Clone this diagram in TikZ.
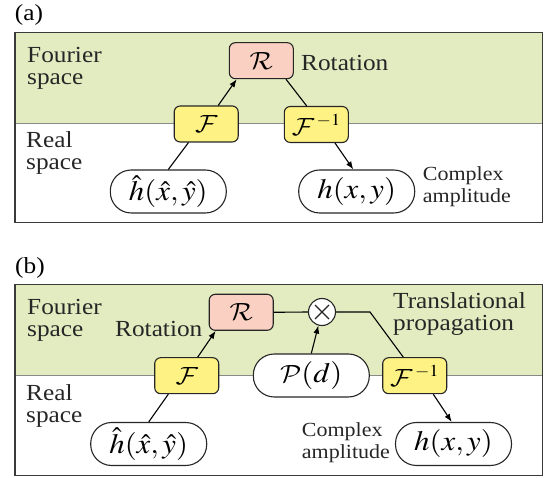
\documentclass[tikz,border=0pt]{standalone}
\usepackage{mathptmx}
\DeclareMathAlphabet{\mathcal}{OMS}{cmsy}{m}{n}
\usepackage[no-math]{fontspec}
\setmainfont[FakeStretch=1.1]{Liberation Serif}
\usepackage{graphicx}
\usetikzlibrary{arrows.meta}

\definecolor{fourierbg}{HTML}{E3EBC0}
\definecolor{rotfill}{HTML}{F9D0C1}
\definecolor{ftfill}{HTML}{FDF283}
\definecolor{framegray}{HTML}{3A3A3A}
\definecolor{divgray}{HTML}{8A8A8A}

% math set a little larger and widened like the text
\newcommand{\mth}[1]{\scalebox{1.1}[1]{\fontsize{28}{28}\selectfont$#1$}}
\newcommand{\inv}{^{\,\scriptscriptstyle -1}}

\tikzset{
  panel/.style={draw=framegray, line width=1.4pt},
  divider/.style={draw=divgray, line width=1.3pt},
  opbox/.style={draw=black!85, line width=1.1pt, rounded corners=6pt,
    minimum width=64pt, minimum height=36pt, inner sep=0pt},
  rotbox/.style={opbox, fill=rotfill},
  ftbox/.style={opbox, fill=ftfill},
  pill/.style={draw=black!85, line width=1.1pt, fill=white, rounded corners=21pt,
    minimum width=116pt, minimum height=43pt, inner sep=0pt},
  mult/.style={draw=black!85, line width=1.1pt, fill=white, circle,
    minimum size=27pt, inner sep=0pt,
    path picture={
      \draw[line width=1.1pt, black!85]
        ([shift={(-7pt,-7pt)}]path picture bounding box.center) -- ++(14pt,14pt)
        ([shift={(-7pt,7pt)}]path picture bounding box.center) -- ++(14pt,-14pt);
    }},
  conn/.style={draw=black, line width=1.1pt},
  arr/.style={conn, -{Latex[length=8pt,width=6pt]}},
  lbl/.style={inner sep=0pt, align=left, font=\fontsize{23}{22}\selectfont, text=black!85},
  small/.style={lbl, font=\fontsize{20}{22}\selectfont},
  tag/.style={inner sep=0pt, font=\fontsize{23}{23}\selectfont}
}

\begin{document}
\begin{tikzpicture}[x=1pt, y=-1pt]
\useasboundingbox (0,0) rectangle (555,478);

% ---------- panel (a) ----------
\node[tag] (taga) at (29,15) {(a)};
\fill[fourierbg] (15,32.7) rectangle (542.3,123.3);
\draw[divider] (15,123.3) -- (542.3,123.3);
\draw[panel] (15,32.7) rectangle (542.3,222.7);

% two-line labels are anchored on the baseline of their last line
\node[lbl, anchor=base west] (fsa) at (27,85) {Fourier\\space};
\node[lbl, anchor=base west] (rsa) at (26,170) {Real\\space};

\node[rotbox] (Ra)  at (261.3,60.7) {\mth{\mathcal{R}}};
\node[ftbox]  (Fa)  at (206.2,124) {\mth{\mathcal{F}}};
\node[ftbox]  (Fia) at (316.3,124.5) {\mth{\mathcal{F}\inv}};
\node[pill]   (hha) at (168.3,191.5) {\mth{\hat{h}(\hat{x},\hat{y})}};
\node[pill]   (hxa) at (356.7,191.5) {\mth{h(x,y)}};

\node[lbl, anchor=base west] (rota) at (301,71) {Rotation};
\node[small, anchor=base west] (caa) at (422.7,202.7) {Complex\\amplitude};

\draw[conn] (hha.north) -- ([xshift=-17.7pt]Fa.south);
\draw[arr] ([xshift=12pt]Fa.north) -- ([xshift=-24.6pt]Ra.south);
\draw[conn] ([xshift=24.7pt]Ra.south) -- ([xshift=-9.6pt]Fia.north);
\draw[arr] ([xshift=18.7pt]Fia.south) -- ([xshift=-3.4pt]hxa.north);

% ---------- panel (b) ----------
\node[tag] (tagb) at (30,268) {(b)};
\fill[fourierbg] (15,284.3) rectangle (542.3,375.7);
\draw[divider] (15,375.7) -- (542.3,375.7);
\draw[panel] (15,284.3) rectangle (542.3,475.3);

\node[lbl, anchor=base west] (fsb) at (27,336.7) {Fourier\\space};
\node[lbl, anchor=base west] (rsb) at (26,422.7) {Real\\space};

\node[rotbox] (Rb)  at (241.2,312.3) {\mth{\mathcal{R}}};
\node[mult]   (Xb)  at (322,312) {};
\node[ftbox]  (Fb)  at (186.7,375.7) {\mth{\mathcal{F}}};
\node[pill]   (Pb)  at (311.3,375.5) {\mth{\mathcal{P}(d)}};
\node[ftbox]  (Fib) at (414.7,375.7) {\mth{\mathcal{F}\inv}};
\node[pill]   (hhb) at (148.7,444) {\mth{\hat{h}(\hat{x},\hat{y})}};
\node[pill]   (hxb) at (453.5,444) {\mth{h(x,y)}};

\node[lbl, anchor=base west] (rotb) at (115,336.7) {Rotation};
\node[lbl, anchor=base west] (tpb) at (393,330.7) {Translational\\propagation};
\node[small, anchor=base west] (cab) at (301.7,458.3) {Complex\\amplitude};

\coordinate (bend) at (370,312);
\draw[conn] (hhb.north) -- ([xshift=-18.4pt]Fb.south);
\draw[arr] ([xshift=11pt]Fb.north) -- ([xshift=-25.5pt]Rb.south);
\draw[conn] (Rb.east) -- (Xb.west);
\draw[arr] (Pb.north) -- (Xb.-105);
\draw[conn] (Xb.east) -- (bend) -- ([xshift=-11.4pt]Fib.north);
\draw[arr] ([xshift=18.6pt]Fib.south) -- ([xshift=-1.8pt]hxb.north);
\end{tikzpicture}
\end{document}
